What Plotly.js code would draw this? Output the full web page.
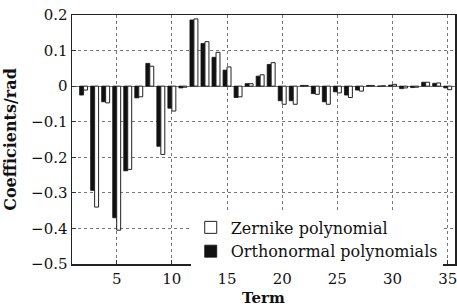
<!DOCTYPE html>
<html>
<head>
<meta charset="utf-8">
<script src="https://cdn.plot.ly/plotly-3.0.1.min.js"></script>
<style>html,body{margin:0;padding:0;background:#fff;}#chart{width:457px;height:307px;}</style>
</head>
<body>
<div id="chart"></div>
<script>
const terms = [2,3,4,5,6,7,8,9,10,11,12,13,14,15,16,17,18,19,20,21,22,23,24,25,26,27,28,29,30,31,32,33,34,35];
const orthonormal = [-0.025,-0.293,-0.044,-0.370,-0.238,-0.033,0.064,-0.169,-0.062,-0.005,0.186,0.120,0.081,0.045,-0.032,0.007,0.028,0.061,-0.041,-0.041,0.002,-0.021,-0.044,-0.016,-0.025,-0.011,0.002,0.000,0.003,-0.007,-0.004,0.011,0.008,-0.005];
const zernike = [-0.011,-0.340,-0.047,-0.405,-0.234,-0.030,0.056,-0.192,-0.070,-0.003,0.189,0.125,0.095,0.054,-0.030,0.007,0.032,0.066,-0.051,-0.051,0.002,-0.023,-0.051,-0.019,-0.032,-0.014,0.002,0.001,0.005,-0.005,-0.003,0.011,0.009,-0.010];
const yTickVals = [0.2,0.1,0,-0.1,-0.2,-0.3,-0.4,-0.5];
const yTickText = ['0.2','0.1','0','\u22120.1','\u22120.2','\u22120.3','\u22120.4','\u22120.5'];
const xTickVals = [5,10,15,20,25,30,35];

const serif = '"DejaVu Serif", serif';
const traces = [
  {type:'bar', x:terms, y:orthonormal, name:'Orthonormal polynomials',
   marker:{color:'#111', line:{color:'#111', width:0.8}}},
  {type:'bar', x:terms, y:zernike, name:'Zernike polynomial',
   marker:{color:'#fff', line:{color:'#222', width:1}}}
];
const layout = {
  width:457, height:307,
  margin:{l:72, r:2, t:15, b:43},
  paper_bgcolor:'#fff', plot_bgcolor:'#fff',
  barmode:'group', bargap:0.28, bargroupgap:0,
  font:{family:serif, size:15, color:'#111'},
  showlegend:true,
  legend:{x:0.31, xanchor:'left', y:0.215, yanchor:'top', bgcolor:'#fff',
          traceorder:'reversed', font:{family:serif, size:16, color:'#111'},
          tracegroupgap:0, itemwidth:30},
  xaxis:{range:[0.95,35.66], tickvals:xTickVals, ticktext:xTickVals.map(String),
         ticks:'inside', ticklen:4, tickcolor:'#333', ticklabeloverflow:'allow',
         showline:true, linecolor:'#222', linewidth:1.5, mirror:true,
         showgrid:true, gridcolor:'#777', gridwidth:1, griddash:'3px,3px',
         zeroline:false, tickfont:{family:serif, size:15, color:'#111'},
         title:{text:'<b>Term</b>', font:{family:serif, size:15, color:'#111'}, standoff:6}},
  yaxis:{range:[-0.5,0.2], tickvals:yTickVals, ticktext:yTickText,
         ticks:'inside', ticklen:4, tickcolor:'#333',
         showline:true, linecolor:'#222', linewidth:1.5, mirror:true,
         showgrid:true, gridcolor:'#777', gridwidth:1, griddash:'3px,3px',
         zeroline:true, zerolinecolor:'#777', zerolinewidth:1,
         tickfont:{family:serif, size:15, color:'#111'},
         title:{text:'<b>Coefficients/rad</b>', font:{family:serif, size:16, color:'#111'}, standoff:10}}
};
Plotly.newPlot('chart', traces, layout, {staticPlot:true, displayModeBar:false});
</script>
</body>
</html>
